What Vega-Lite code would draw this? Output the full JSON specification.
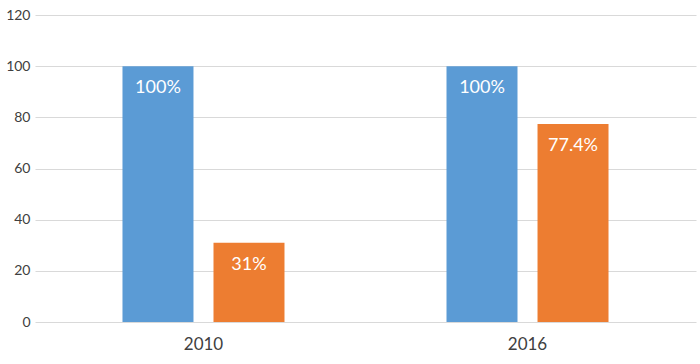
{
  "$schema": "https://vega.github.io/schema/vega-lite/v6.json",
  "width": 700,
  "height": 364,
  "autosize": {"type": "fit", "contains": "padding"},
  "padding": {"left": 5, "top": 8, "right": 4, "bottom": 12},
  "background": "white",
  "config": {"view": {"stroke": null}, "font": "Lato"},
  "data": {
    "values": [
      {"year": "2010", "series": "A", "value": 100, "label": "100%"},
      {"year": "2010", "series": "B", "value": 31, "label": "31%"},
      {"year": "2016", "series": "A", "value": 100, "label": "100%"},
      {"year": "2016", "series": "B", "value": 77.4, "label": "77.4%"}
    ]
  },
  "encoding": {
    "x": {
      "field": "year", "type": "nominal",
      "scale": {"paddingInner": 0.5, "paddingOuter": 0.27},
      "axis": {"title": null, "labelAngle": 0, "domain": false, "ticks": false, "labelFontSize": 17, "labelColor": "#404040", "labelPadding": 14}
    },
    "xOffset": {"field": "series", "type": "nominal", "scale": {"paddingInner": 0.22}},
    "y": {
      "field": "value", "type": "quantitative",
      "scale": {"domain": [0, 120]},
      "axis": {"title": null, "values": [0, 20, 40, 60, 80, 100, 120], "domain": false, "ticks": false, "gridColor": "#d9d9d9", "labelFontSize": 14, "labelColor": "#404040", "labelPadding": 5}
    }
  },
  "layer": [
    {
      "mark": {"type": "bar"},
      "encoding": {
        "color": {"field": "series", "type": "nominal", "scale": {"range": ["#5B9BD5", "#ED7D31"]}, "legend": null}
      }
    },
    {
      "mark": {"type": "text", "baseline": "middle", "dy": 22, "color": "white", "fontSize": 18},
      "encoding": {"text": {"field": "label"}}
    }
  ]
}
